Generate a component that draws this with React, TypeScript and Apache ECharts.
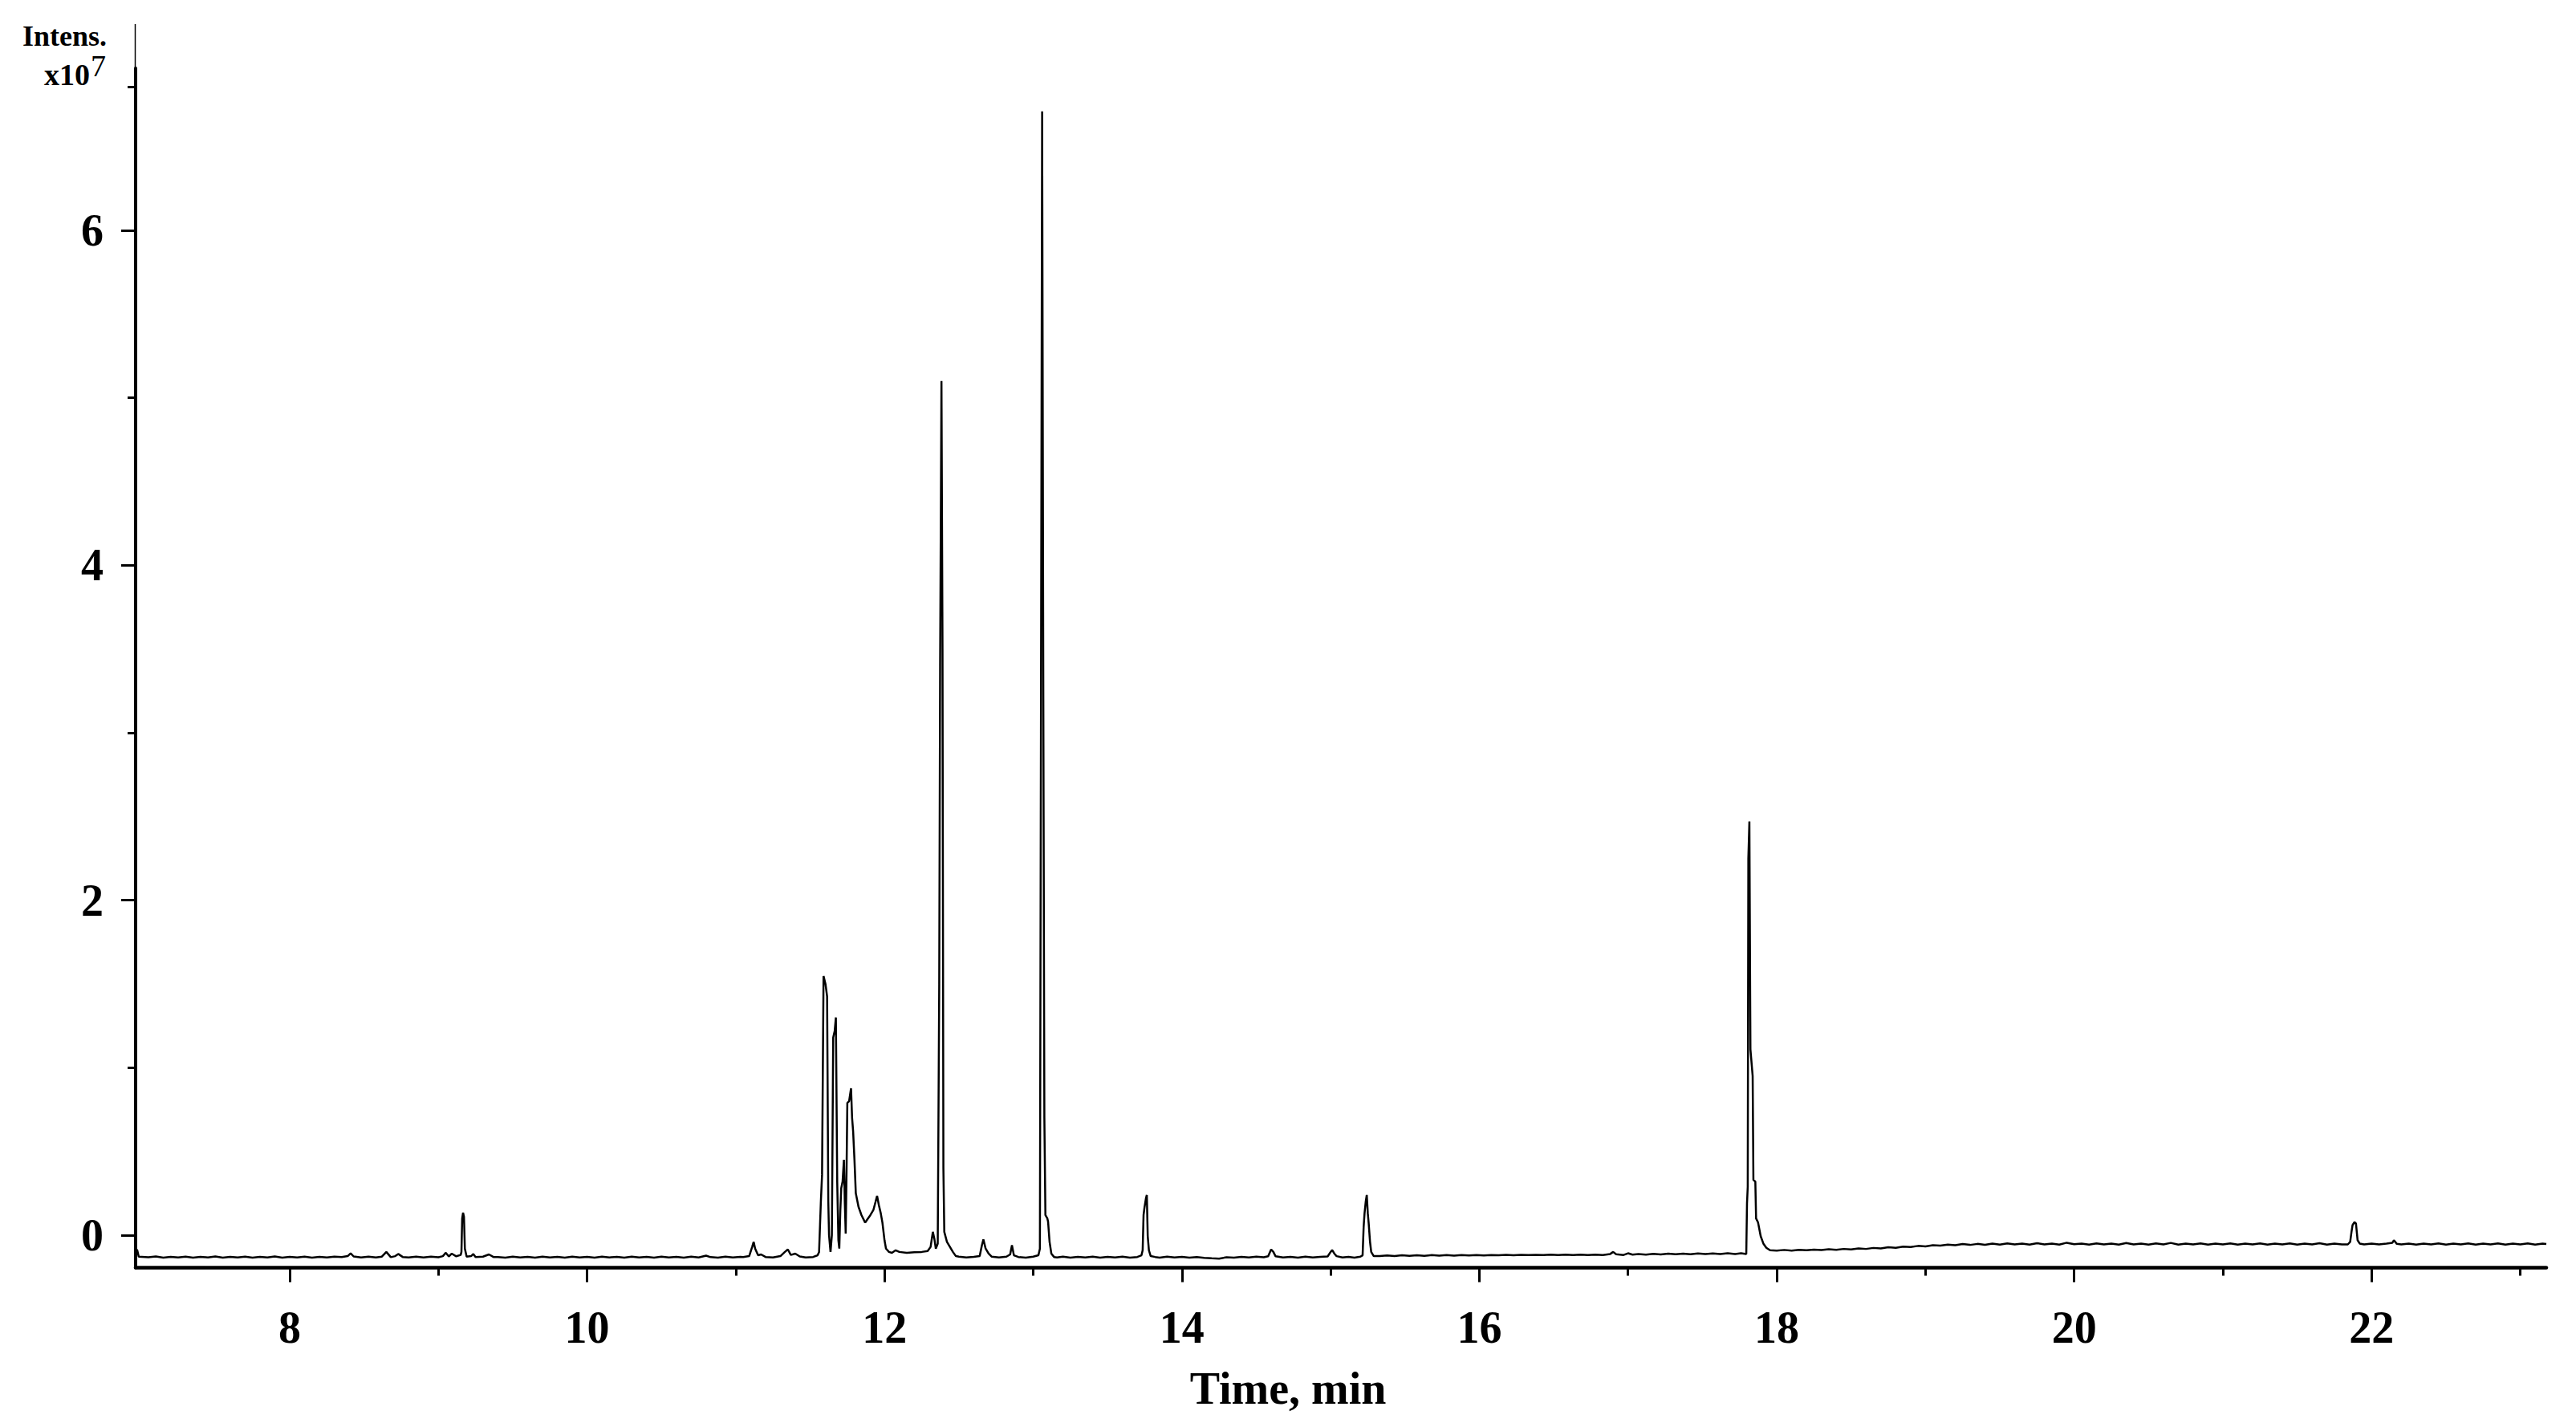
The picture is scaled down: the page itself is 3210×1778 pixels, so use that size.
import React, { useEffect, useRef } from "react";
import * as echarts from "echarts";

const FONT = "'Liberation Serif', 'Times New Roman', serif";

// Axis ranges (minutes, x10^7 counts)
const X_MIN = 6.964;
const X_MAX = 23.175;
const Y_MIN = -0.194;
const Y_MAX = 6.967;

// Tick values
const X_MAJOR_TICKS = [8, 10, 12, 14, 16, 18, 20, 22];
const X_MINOR_TICKS = [9, 11, 13, 15, 17, 19, 21, 23];
const Y_MAJOR_TICKS = [0, 2, 4, 6];
const Y_MINOR_TICKS = [1, 3, 5, 6.857];

// Chromatogram: [time (min), intensity (x10^7)]
const baselineStart: [number, number][] = [
  [6.964, -0.13], [6.968, -0.085], [6.975, -0.09], [6.985, -0.128], [7.05, -0.132], [7.1, -0.127],
  [7.15, -0.134], [7.2, -0.129], [7.25, -0.133], [7.3, -0.128], [7.35, -0.134], [7.4, -0.129],
  [7.45, -0.133], [7.5, -0.127], [7.55, -0.134], [7.6, -0.129], [7.65, -0.133], [7.7, -0.128],
  [7.75, -0.134], [7.8, -0.129], [7.85, -0.133], [7.9, -0.127], [7.95, -0.134], [8.0, -0.129],
  [8.05, -0.133], [8.1, -0.128], [8.15, -0.134], [8.2, -0.129], [8.25, -0.133], [8.3, -0.128],
  [8.35, -0.131], [8.39, -0.125], [8.41, -0.108], [8.43, -0.127], [8.48, -0.133], [8.53, -0.128],
  [8.58, -0.133], [8.62, -0.128], [8.65, -0.1], [8.68, -0.131], [8.71, -0.125], [8.73, -0.112],
  [8.76, -0.13], [8.8, -0.133], [8.85, -0.128], [8.9, -0.133], [8.95, -0.128], [9.0, -0.132],
  [9.03, -0.125], [9.05, -0.105], [9.07, -0.127], [9.09, -0.11], [9.12, -0.126], [9.15, -0.118],
];

const peak917: [number, number][] = [
  [9.155, -0.1], [9.16, 0.1], [9.166, 0.134], [9.172, 0.11], [9.178, -0.08], [9.19, -0.128],
  [9.22, -0.125], [9.235, -0.112], [9.25, -0.13], [9.3, -0.128], [9.34, -0.115], [9.37, -0.13],
];

const baselineMid1: [number, number][] = [
  [9.4, -0.13], [9.45, -0.134], [9.5, -0.128], [9.55, -0.133], [9.6, -0.129], [9.65, -0.134],
  [9.7, -0.128], [9.75, -0.133], [9.8, -0.129], [9.85, -0.134], [9.9, -0.128], [9.95, -0.133],
  [10.0, -0.129], [10.05, -0.134], [10.1, -0.128], [10.15, -0.133], [10.2, -0.129], [10.25, -0.134],
  [10.3, -0.128], [10.35, -0.133], [10.4, -0.129], [10.45, -0.134], [10.5, -0.128], [10.55, -0.133],
  [10.6, -0.129], [10.65, -0.134], [10.7, -0.128], [10.75, -0.133], [10.8, -0.122], [10.83, -0.131],
  [10.88, -0.134], [10.93, -0.128], [10.98, -0.133], [11.03, -0.129],
];

const cluster11: [number, number][] = [
  [11.05, -0.13], [11.09, -0.125], [11.11, -0.07], [11.12, -0.04], [11.13, -0.08], [11.15, -0.12],
  [11.17, -0.115], [11.2, -0.13], [11.25, -0.133], [11.3, -0.125], [11.33, -0.1], [11.35, -0.085],
  [11.37, -0.118], [11.4, -0.11], [11.43, -0.127], [11.47, -0.133], [11.52, -0.13], [11.55, -0.12],
  [11.56, -0.1], [11.572, 0.2], [11.58, 0.36], [11.59, 1.548], [11.603, 1.5], [11.614, 1.425],
  [11.622, 0.2], [11.627, 0.0], [11.637, -0.1], [11.646, 0.0], [11.655, 1.18], [11.665, 1.22],
  [11.673, 1.3], [11.682, 0.316], [11.69, -0.03], [11.696, -0.08], [11.703, 0.15], [11.709, 0.28],
  [11.718, 0.32], [11.727, 0.45], [11.733, 0.2], [11.739, 0.01], [11.745, 0.4], [11.75, 0.79],
  [11.762, 0.8], [11.775, 0.877], [11.782, 0.7], [11.789, 0.62], [11.798, 0.45], [11.807, 0.25],
  [11.825, 0.17], [11.845, 0.12], [11.87, 0.075], [11.885, 0.095], [11.905, 0.12], [11.925, 0.15],
  [11.94, 0.2], [11.95, 0.235], [11.962, 0.18], [11.975, 0.13], [11.986, 0.075], [12.0, -0.03],
  [12.01, -0.08], [12.03, -0.1], [12.05, -0.105], [12.075, -0.09], [12.1, -0.1], [12.15, -0.105],
  [12.2, -0.102], [12.25, -0.1], [12.29, -0.095], [12.31, -0.07], [12.325, 0.02], [12.335, -0.02],
  [12.345, -0.08],
];

const peak1238: [number, number][] = [
  [12.358, -0.05], [12.368, 1.5], [12.374, 3.4], [12.383, 5.1], [12.39, 3.5], [12.396, 0.4],
  [12.402, 0.02], [12.42, -0.04], [12.44, -0.07], [12.46, -0.1], [12.48, -0.125],
];

const baselineMid2: [number, number][] = [
  [12.5, -0.128], [12.55, -0.133], [12.6, -0.129], [12.64, -0.125], [12.655, -0.06], [12.665, -0.025],
  [12.68, -0.08], [12.7, -0.11], [12.72, -0.128], [12.77, -0.133], [12.82, -0.128], [12.845, -0.115],
  [12.857, -0.06], [12.87, -0.12], [12.9, -0.13], [12.95, -0.134], [13.0, -0.128], [13.035, -0.12],
];

const peak1306: [number, number][] = [
  [13.045, -0.08], [13.052, 3.0], [13.06, 6.71], [13.068, 3.2], [13.075, 0.7], [13.082, 0.12],
  [13.095, 0.1], [13.1, 0.08], [13.11, -0.04], [13.122, -0.11], [13.14, -0.13],
];

const baselineMid3: [number, number][] = [
  [13.16, -0.133], [13.2, -0.128], [13.25, -0.134], [13.3, -0.129], [13.35, -0.133], [13.4, -0.128],
  [13.45, -0.134], [13.5, -0.129], [13.55, -0.133], [13.6, -0.128], [13.65, -0.134], [13.7, -0.13],
  [13.728, -0.12], [13.736, -0.09], [13.742, 0.12], [13.748, 0.163], [13.758, 0.22], [13.764, 0.24],
  [13.77, -0.005], [13.778, -0.09], [13.79, -0.125], [13.82, -0.13], [13.85, -0.134], [13.9, -0.128],
  [13.95, -0.133], [14.0, -0.129], [14.05, -0.134], [14.1, -0.13], [14.15, -0.135], [14.2, -0.138],
  [14.25, -0.14], [14.3, -0.132], [14.35, -0.134], [14.4, -0.129], [14.45, -0.133], [14.5, -0.128],
  [14.55, -0.132], [14.58, -0.126], [14.6, -0.085], [14.615, -0.1], [14.63, -0.126], [14.68, -0.133],
  [14.73, -0.129], [14.78, -0.134], [14.83, -0.128], [14.88, -0.133], [14.93, -0.129], [14.98, -0.127],
  [15.0, -0.1], [15.01, -0.088], [15.025, -0.11], [15.04, -0.125], [15.08, -0.133], [15.12, -0.129],
  [15.16, -0.134], [15.2, -0.128], [15.215, -0.12], [15.222, 0.05], [15.228, 0.13], [15.236, 0.2],
  [15.243, 0.24], [15.25, 0.13], [15.256, 0.07], [15.265, -0.04], [15.273, -0.1], [15.29, -0.125],
];

const baselineMid4: [number, number][] = [
  [15.33, -0.124], [15.38, -0.121], [15.43, -0.124], [15.48, -0.12], [15.53, -0.123], [15.58, -0.12],
  [15.63, -0.123], [15.68, -0.119], [15.73, -0.122], [15.78, -0.119], [15.83, -0.122], [15.88, -0.118],
  [15.93, -0.121], [15.98, -0.118], [16.03, -0.121], [16.08, -0.118], [16.13, -0.12], [16.18, -0.117],
  [16.23, -0.12], [16.28, -0.117], [16.33, -0.119], [16.38, -0.117], [16.43, -0.119], [16.48, -0.116],
  [16.53, -0.118], [16.58, -0.116], [16.63, -0.118], [16.68, -0.116], [16.73, -0.118], [16.78, -0.116],
  [16.83, -0.118], [16.88, -0.112], [16.9, -0.1], [16.92, -0.114], [16.97, -0.118], [17.0, -0.108],
  [17.03, -0.116], [17.07, -0.112], [17.12, -0.116], [17.17, -0.111], [17.22, -0.115], [17.27, -0.11],
  [17.32, -0.114], [17.37, -0.11], [17.42, -0.114], [17.47, -0.109], [17.52, -0.113], [17.57, -0.109],
  [17.62, -0.113], [17.67, -0.108], [17.72, -0.112], [17.76, -0.108],
];

const peak1782: [number, number][] = [
  [17.795, -0.112], [17.8, 0.19], [17.805, 0.29], [17.809, 2.25], [17.816, 2.47], [17.823, 1.11],
  [17.838, 0.95], [17.843, 0.33], [17.856, 0.32], [17.861, 0.1], [17.874, 0.077], [17.892, -0.006],
  [17.91, -0.05], [17.93, -0.075], [17.955, -0.09], [18.0, -0.092],
];

const baselineEnd: [number, number][] = [
  [18.05, -0.088], [18.1, -0.092], [18.15, -0.087], [18.2, -0.09], [18.25, -0.086], [18.3, -0.089],
  [18.35, -0.084], [18.4, -0.087], [18.45, -0.082], [18.5, -0.085], [18.55, -0.079], [18.6, -0.082],
  [18.65, -0.076], [18.7, -0.079], [18.75, -0.072], [18.8, -0.075], [18.85, -0.068], [18.9, -0.071],
  [18.95, -0.064], [19.0, -0.067], [19.05, -0.06], [19.1, -0.062], [19.15, -0.056], [19.2, -0.06],
  [19.25, -0.053], [19.3, -0.058], [19.35, -0.052], [19.4, -0.057], [19.45, -0.05], [19.5, -0.056],
  [19.55, -0.049], [19.6, -0.055], [19.65, -0.05], [19.7, -0.056], [19.75, -0.048], [19.8, -0.055],
  [19.85, -0.05], [19.9, -0.056], [19.95, -0.045], [20.0, -0.054], [20.05, -0.05], [20.1, -0.056],
  [20.15, -0.049], [20.2, -0.055], [20.25, -0.05], [20.3, -0.056], [20.35, -0.047], [20.4, -0.055],
  [20.45, -0.05], [20.5, -0.056], [20.55, -0.049], [20.6, -0.055], [20.65, -0.046], [20.7, -0.056],
  [20.75, -0.05], [20.8, -0.055], [20.85, -0.049], [20.9, -0.056], [20.95, -0.05], [21.0, -0.055],
  [21.05, -0.049], [21.1, -0.056], [21.15, -0.05], [21.2, -0.055], [21.25, -0.049], [21.3, -0.056],
  [21.35, -0.05], [21.4, -0.055], [21.45, -0.049], [21.5, -0.056], [21.55, -0.05], [21.6, -0.055],
  [21.65, -0.048], [21.7, -0.056], [21.75, -0.05], [21.8, -0.055], [21.84, -0.055], [21.856, -0.04],
  [21.865, 0.02], [21.872, 0.06], [21.885, 0.078], [21.895, 0.07], [21.906, -0.03], [21.92, -0.05],
  [21.95, -0.055], [22.0, -0.05], [22.05, -0.055], [22.1, -0.05], [22.14, -0.045], [22.15, -0.03],
  [22.17, -0.052], [22.2, -0.055], [22.25, -0.05], [22.3, -0.056], [22.35, -0.05], [22.4, -0.055],
  [22.45, -0.049], [22.5, -0.056], [22.55, -0.05], [22.6, -0.055], [22.65, -0.049], [22.7, -0.056],
  [22.75, -0.05], [22.8, -0.055], [22.85, -0.049], [22.9, -0.056], [22.95, -0.05], [23.0, -0.055],
  [23.05, -0.049], [23.1, -0.056], [23.15, -0.05], [23.175, -0.053],
];

const chromatogram: [number, number][] = [
  ...baselineStart, ...peak917, ...baselineMid1, ...cluster11, ...peak1238,
  ...baselineMid2, ...peak1306, ...baselineMid3, ...baselineMid4, ...peak1782, ...baselineEnd,
];

export default function App() {
  const ref = useRef<HTMLDivElement>(null);

  useEffect(() => {
    if (!ref.current) return;
    const chart = echarts.init(ref.current, undefined, { renderer: "svg" });
    const labelStyle = {
      color: "#000",
      fontFamily: FONT,
      fontWeight: "bold" as const,
      fontSize: 56,
    };
    chart.setOption({
      animation: false,
      backgroundColor: "#fff",
      grid: { left: 169, right: 37, top: 85, bottom: 198.5, containLabel: false },
      xAxis: [
        {
          type: "value",
          min: X_MIN,
          max: X_MAX,
          position: "bottom",
          name: "Time, min",
          nameLocation: "middle",
          nameGap: 122,
          nameTextStyle: { ...labelStyle, padding: [0, 132, 0, 0] },
          axisLine: { show: true, onZero: false, lineStyle: { color: "#000", width: 4.5 } },
          axisTick: { show: true, customValues: X_MAJOR_TICKS, length: 18, lineStyle: { color: "#000", width: 3 } },
          axisLabel: { show: true, customValues: X_MAJOR_TICKS, margin: 46, ...labelStyle },
          splitLine: { show: false },
        },
        {
          type: "value",
          min: X_MIN,
          max: X_MAX,
          position: "bottom",
          axisLine: { show: false, onZero: false },
          axisTick: { show: true, customValues: X_MINOR_TICKS, length: 10, lineStyle: { color: "#000", width: 3 } },
          axisLabel: { show: false },
          splitLine: { show: false },
        },
      ],
      yAxis: [
        {
          type: "value",
          min: Y_MIN,
          max: Y_MAX,
          position: "left",
          axisLine: { show: true, onZero: false, lineStyle: { color: "#000", width: 4 } },
          axisTick: { show: true, customValues: Y_MAJOR_TICKS, length: 18, lineStyle: { color: "#000", width: 3 } },
          axisLabel: { show: true, customValues: Y_MAJOR_TICKS, margin: 40, padding: [26, 0, 0, 0], ...labelStyle },
          splitLine: { show: false },
        },
        {
          type: "value",
          min: Y_MIN,
          max: Y_MAX,
          position: "left",
          axisLine: { show: false, onZero: false },
          axisTick: { show: true, customValues: Y_MINOR_TICKS, length: 10, lineStyle: { color: "#000", width: 3 } },
          axisLabel: { show: false },
          splitLine: { show: false },
        },
      ],
      graphic: [
        {
          type: "line",
          shape: { x1: 168.5, y1: 30, x2: 168.5, y2: 86 },
          style: { stroke: "#000", lineWidth: 1.5 },
        },
        {
          type: "text",
          style: {
            text: "Intens.",
            x: 133,
            y: 45,
            align: "right",
            verticalAlign: "middle",
            fill: "#000",
            fontFamily: FONT,
            fontWeight: "bold",
            fontSize: 36,
          },
        },
        {
          type: "text",
          style: {
            text: "x10",
            x: 112,
            y: 93,
            align: "right",
            verticalAlign: "middle",
            fill: "#000",
            fontFamily: FONT,
            fontWeight: "bold",
            fontSize: 38,
          },
        },
        {
          type: "text",
          style: {
            text: "7",
            x: 113,
            y: 82,
            align: "left",
            verticalAlign: "middle",
            fill: "#000",
            fontFamily: FONT,
            fontWeight: "normal",
            fontSize: 38,
          },
        },
      ],
      series: [
        {
          type: "line",
          xAxisIndex: 0,
          yAxisIndex: 0,
          data: chromatogram,
          showSymbol: false,
          symbol: "none",
          silent: true,
          lineStyle: { color: "#000", width: 2.5 },
        },
      ],
    });
    return () => chart.dispose();
  }, []);

  return (
    <div
      ref={ref}
      style={{ position: "fixed", left: 0, top: 0, width: 3210, height: 1778, background: "#fff" }}
    />
  );
}
